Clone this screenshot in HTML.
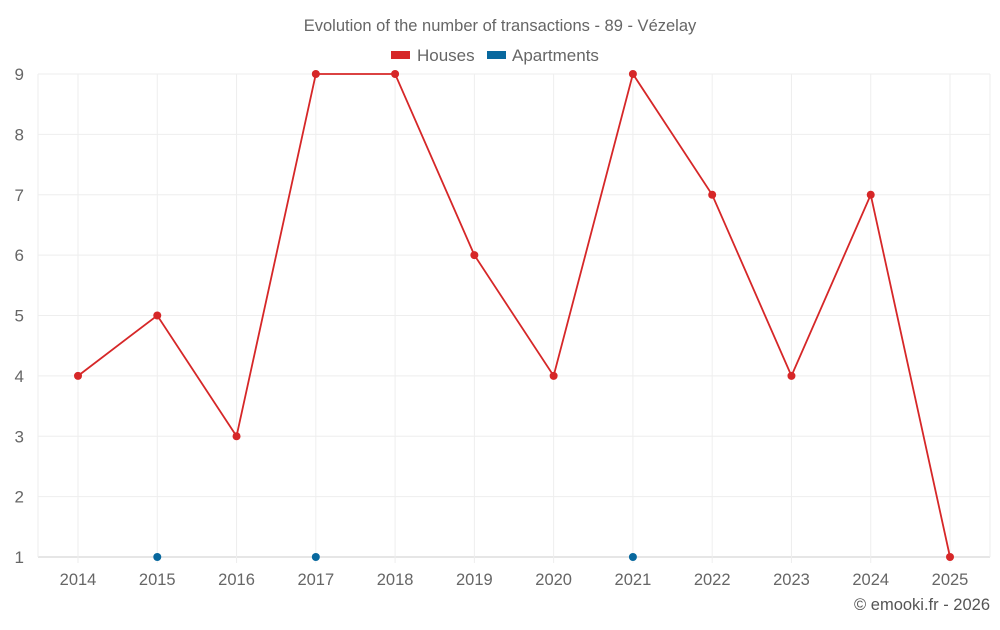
<!DOCTYPE html>
<html><head><meta charset="utf-8"><style>
body{margin:0;background:#fff;font-family:"Liberation Sans",sans-serif;}
svg text{font-family:"Liberation Sans",sans-serif;}
</style></head><body>
<svg id="c" width="1000" height="625">
<text x="500" y="31" text-anchor="middle" font-size="16.5" fill="#666">Evolution of the number of transactions - 89 - Vézelay</text>
<g><rect x="391" y="51" width="19" height="8" fill="#d62728"/><text x="417" y="61" font-size="17" fill="#666">Houses</text></g>
<g><rect x="487" y="51" width="19" height="8" fill="#08689e"/><text x="512" y="61" font-size="17" fill="#666">Apartments</text></g>
<text x="990" y="610" text-anchor="end" font-size="16.5" fill="#555">© emooki.fr - 2026</text>
<g id="grid"></g><g id="marks"></g>
</svg>
<script>
const years=['2014','2015','2016','2017','2018','2019','2020','2021','2022','2023','2024','2025'];
const houses=[4,5,3,9,9,6,4,9,7,4,7,1];
const apartments=[null,1,null,1,null,null,null,1,null,null,null,null];
const yTicks=[1,2,3,4,5,6,7,8,9];
const L=38,R=990,T=74,B=557;
const x=i=>78+i*(950-78)/(years.length-1);
const y=v=>B-(v-1)*(B-T)/8;
const NS='http://www.w3.org/2000/svg';
const g=document.getElementById('grid'),m=document.getElementById('marks');
function mk(p,tag,a){const e=document.createElementNS(NS,tag);for(const k in a)e.setAttribute(k,a[k]);p.appendChild(e);return e;}
yTicks.forEach(t=>{
const l=mk(g,'line',{x1:L,x2:R,y1:y(t),y2:y(t),stroke:t===1?'#ccc':'#eee'});


const tx=mk(g,'text',{x:24,y:y(t)+6,'text-anchor':'end','font-size':17,fill:'#666'});tx.textContent=t;


});
[L,R].forEach(v=>mk(g,'line',{x1:v,x2:v,y1:T,y2:B,stroke:'#eee'}));
years.forEach((yr,i)=>{
const l=mk(g,'line',{x1:x(i),x2:x(i),y1:T,y2:B+6,stroke:'#eee'});


const tx=mk(g,'text',{x:x(i),y:585,'text-anchor':'middle','font-size':16.5,fill:'#666'});tx.textContent=yr;


});
const pl=mk(m,'polyline',{points:houses.map((v,i)=>x(i)+','+y(v)).join(' '),fill:'none',stroke:'#d62728','stroke-width':1.8});


houses.forEach((v,i)=>{const c=mk(m,'circle',{cx:x(i),cy:y(v),r:4,fill:'#d62728'});

});
apartments.forEach((v,i)=>{if(v==null)return;const c=mk(m,'circle',{cx:x(i),cy:y(v),r:4,fill:'#08689e'});

});
</script>
</body></html>
